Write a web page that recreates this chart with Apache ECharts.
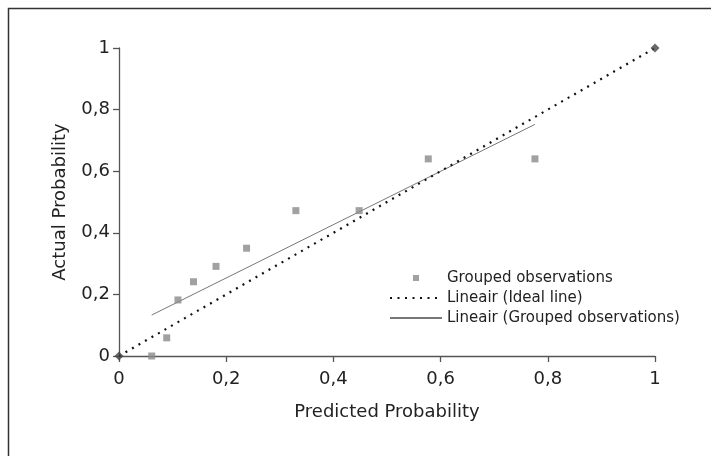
<!DOCTYPE html>
<html>
<head>
<meta charset="utf-8">
<script src="https://cdn.jsdelivr.net/npm/echarts@6/dist/echarts.min.js"></script>
<style>
  html, body { margin: 0; padding: 0; background: #fff; }
  #chart { width: 711px; height: 456px; }
</style>
</head>
<body>
<div id="chart"></div>
<script>
// Calibration data: grouped observations (predicted vs. actual probability)
var groupedPredicted = [0.061, 0.089, 0.110, 0.139, 0.181, 0.238, 0.330, 0.448, 0.577, 0.776];
var groupedActual    = [0.000, 0.059, 0.182, 0.241, 0.291, 0.350, 0.472, 0.472, 0.640, 0.640];

// Ideal calibration line end points
var idealX = [0, 1];
var idealY = [0, 1];

// Linear trend through the grouped observations (end points)
var trendX = [0.061, 0.776];
var trendY = [0.133, 0.752];

// Axis tick values
var tickValues = [0, 0.2, 0.4, 0.6, 0.8, 1];

var seriesNames = ['Grouped observations', 'Lineair (Ideal line)', 'Lineair (Grouped observations)'];

function pairs(xs, ys) {
  return xs.map(function (x, i) { return [x, ys[i]]; });
}
function commaLabel(v) {
  return String(Math.round(v * 10) / 10).replace('.', ',');
}

var FONT = 'DejaVu Sans';
var TEXT = '#222';

var chart = echarts.init(document.getElementById('chart'), null, { renderer: 'canvas' });

var axisCommon = {
  type: 'value',
  min: tickValues[0],
  max: tickValues[tickValues.length - 1],
  interval: 0.2,
  splitLine: { show: false },
  axisLine: { show: true, lineStyle: { color: '#555', width: 1.3 } },
  axisTick: { show: true, inside: false, length: 6, lineStyle: { color: '#555', width: 1.3 } },
  axisLabel: { formatter: commaLabel, color: TEXT, fontFamily: FONT, fontSize: 18 },
  nameLocation: 'middle',
  nameTextStyle: { color: TEXT, fontFamily: FONT, fontSize: 18 }
};

// square marker icon centred in the legend's wide icon box
var squareIcon = 'path://M0,0L0,0ZM23,0h6v6h-6ZM52,6L52,6Z';

chart.setOption({
  animation: false,
  backgroundColor: '#fff',
  graphic: [{
    type: 'rect',
    z: -10,
    shape: { x: 8.5, y: 8.5, width: 730, height: 470 },
    style: { fill: 'none', stroke: '#333', lineWidth: 1.5 }
  }],
  grid: { left: 119, right: 56, top: 48, bottom: 100, containLabel: false },
  xAxis: Object.assign({}, axisCommon, {
    name: 'Predicted Probability',
    nameGap: 47,
    axisLabel: Object.assign({}, axisCommon.axisLabel, { margin: 14 })
  }),
  yAxis: Object.assign({}, axisCommon, {
    name: 'Actual Probability',
    nameGap: 50,
    axisLabel: Object.assign({}, axisCommon.axisLabel, { margin: 9 })
  }),
  legend: {
    orient: 'vertical',
    left: 389,
    top: 268,
    padding: 0,
    itemWidth: 52,
    itemHeight: 6,
    itemGap: 0,
    data: [
      { name: seriesNames[0], icon: squareIcon },
      { name: seriesNames[1], itemStyle: { opacity: 0 } },
      { name: seriesNames[2], itemStyle: { opacity: 0 } }
    ],
    textStyle: { color: TEXT, fontFamily: FONT, fontSize: 15, lineHeight: 20 }
  },
  series: [
    {
      name: seriesNames[2],
      type: 'line',
      data: pairs(trendX, trendY),
      symbol: 'none',
      lineStyle: { color: '#777', width: 1 },
      itemStyle: { color: '#333' },
      z: 2
    },
    {
      name: seriesNames[1],
      type: 'line',
      data: pairs(idealX, idealY),
      symbol: 'none',
      lineStyle: { color: '#111', width: 2.2, type: [2, 5.5] },
      itemStyle: { color: '#111' },
      z: 3
    },
    {
      name: 'ideal-ends',
      type: 'scatter',
      data: pairs(idealX, idealY),
      symbol: 'diamond',
      symbolSize: 9,
      itemStyle: { color: '#444' },
      z: 4
    },
    {
      name: seriesNames[0],
      type: 'scatter',
      data: pairs(groupedPredicted, groupedActual),
      symbol: 'rect',
      symbolSize: 7,
      itemStyle: { color: '#8a8a8a' },
      z: 5
    }
  ]
});
</script>
</body>
</html>
